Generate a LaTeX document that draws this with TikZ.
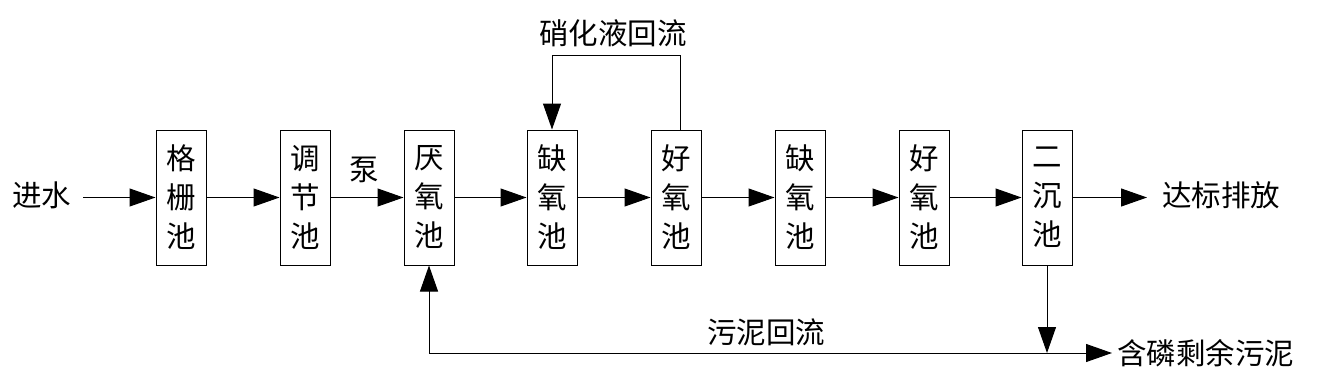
\documentclass[tikz,border=0pt]{standalone}
\usepackage{fontspec}
\newfontfamily\cjk{Noto Sans CJK SC}
\usetikzlibrary{arrows.meta}
\begin{document}
\begin{tikzpicture}[x=1pt,y=-1pt,
  every node/.style={font=\cjk\fontsize{29.5}{39}\selectfont},
  box/.style={draw, line width=1pt, minimum width=50pt, minimum height=135pt, inner sep=0pt, align=center},
  flow/.style={line width=1pt, -{Triangle[length=26pt,width=18pt]}},
  plain/.style={line width=1pt}]
\useasboundingbox (0,0) rectangle (1322,386);
\node[box] (g)  at (181,197.5)  {格\\栅\\池};
\node[box] (t)  at (305,197.5)  {调\\节\\池};
\node[box] (a)  at (429,197.5)  {厌\\氧\\池};
\node[box] (q1) at (552,197.5)  {缺\\氧\\池};
\node[box] (o1) at (676,197.5)  {好\\氧\\池};
\node[box] (q2) at (800,197.5)  {缺\\氧\\池};
\node[box] (o2) at (924,197.5)  {好\\氧\\池};
\node[box] (s)  at (1047,197.5) {二\\沉\\池};
\node (in) at (42,195) {进水};
\node (pump) at (364,170) {泵};
\node (nit) at (613,33) {硝化液回流};
\node[anchor=west,inner sep=0pt] (out) at (1162,195) {达标排放};
\node (ret) at (766,332) {污泥回流};
\node[anchor=west,inner sep=0pt] (ex) at (1117,353) {含磷剩余污泥};
\coordinate (inS) at (83,197.5);
\coordinate (outE) at (1147,197.5);
\coordinate (bl) at (429,353);
\coordinate (bj) at (1047,353);
\coordinate (br) at (1112,353);
\coordinate (top) at (680,55);
\draw[flow] (inS) -- (g);
\draw[flow] (g) -- (t);
\draw[flow] (t) -- (a);
\draw[flow] (a) -- (q1);
\draw[flow] (q1) -- (o1);
\draw[flow] (o1) -- (q2);
\draw[flow] (q2) -- (o2);
\draw[flow] (o2) -- (s);
\draw[flow] (s) -- (outE);
\draw[flow] (top |- o1.north) -- (top) -| (q1.north);
\draw[flow] (s.south) -- (bj);
\draw[flow] (bl) -- (br);
\draw[flow] (bl) -- (a.south);
\end{tikzpicture}
\end{document}
